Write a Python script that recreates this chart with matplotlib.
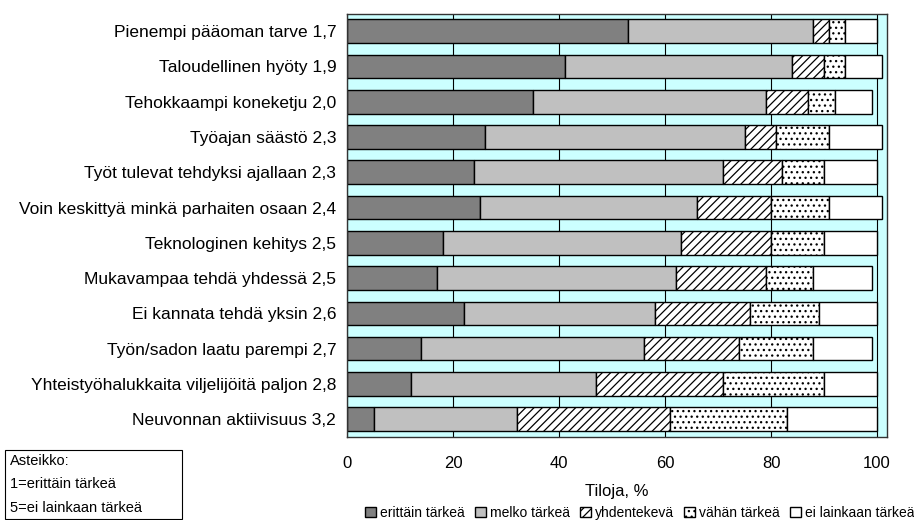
import numpy as np
import matplotlib.pyplot as plt
from matplotlib.patches import Rectangle

plt.rcParams['font.family'] = ['Liberation Sans', 'DejaVu Sans']
plt.rcParams['hatch.linewidth'] = 0.9

# Survey reasons with mean score (1=very important ... 5=not at all important)
reasons = [
    'Pienempi pääoman tarve 1,7',
    'Taloudellinen hyöty 1,9',
    'Tehokkaampi koneketju 2,0',
    'Työajan säästö 2,3',
    'Työt tulevat tehdyksi ajallaan 2,3',
    'Voin keskittyä minkä parhaiten osaan 2,4',
    'Teknologinen kehitys 2,5',
    'Mukavampaa tehdä yhdessä 2,5',
    'Ei kannata tehdä yksin 2,6',
    'Työn/sadon laatu parempi 2,7',
    'Yhteistyöhalukkaita viljelijöitä paljon 2,8',
    'Neuvonnan aktiivisuus 3,2',
]

# share of farms, %
erittain = [53, 41, 35, 26, 24, 25, 18, 17, 22, 14, 12, 5]
melko = [35, 43, 44, 49, 47, 41, 45, 45, 36, 42, 35, 27]
yhdentekeva = [3, 6, 8, 6, 11, 14, 17, 17, 18, 18, 24, 29]
vahan = [3, 4, 5, 10, 8, 11, 10, 9, 13, 14, 19, 22]
ei_lainkaan = [6, 7, 7, 10, 10, 10, 10, 11, 11, 11, 10, 17]

series = [erittain, melko, yhdentekeva, vahan, ei_lainkaan]
names = ['erittäin tärkeä', 'melko tärkeä', 'yhdentekevä', 'vähän tärkeä', 'ei lainkaan tärkeä']
colors = ['#808080', '#c0c0c0', 'white', 'white', 'white']
hatches = [None, None, '////', '...', None]
ticks = [0, 20, 40, 60, 80, 100]

fig = plt.figure(figsize=(9.14, 5.2), dpi=100)
ax = fig.add_axes([0.380, 0.160, 0.590, 0.814])
ax.set_facecolor('#ccffff')

y = np.arange(len(reasons))
left = np.zeros(len(reasons))
for vals, name, col, h in zip(series, names, colors, hatches):
    vals = np.array(vals, dtype=float)
    ax.barh(y, vals, left=left, height=0.67, color=col, edgecolor='black',
            linewidth=1.0, hatch=h, label=name)
    left += vals

ax.set_ylim(len(reasons) - 0.5, -0.5)
ax.set_xlim(0, 101.8)
ax.set_yticks(y)
ax.set_yticklabels(reasons, fontsize=12.5)
ax.set_xticks(ticks)
ax.set_xticklabels([str(t) for t in ticks], fontsize=12)
ax.tick_params(axis='both', length=0)
ax.tick_params(axis='x', pad=14)
ax.tick_params(axis='y', pad=8)
ax.xaxis.grid(True, color='black', linewidth=0.8)
ax.set_axisbelow(True)
for s in ax.spines.values():
    s.set_color('#333333')
    s.set_linewidth(1.0)
ax.set_xlabel('Tiloja, %', fontsize=12, labelpad=9)

fig.legend(loc='center', bbox_to_anchor=(0.700, 1 - 513 / 520), ncol=5,
           frameon=False, fontsize=10, handlelength=0.8, handleheight=0.8,
           handletextpad=0.3, columnspacing=0.7, borderaxespad=0)

# scale explanation box
fig.patches.append(Rectangle((5 / 914, 1 / 520), 177 / 914, 69 / 520,
                             transform=fig.transFigure, fill=False,
                             edgecolor='black', linewidth=0.8))
for i, line in enumerate(['Asteikko:', '1=erittäin tärkeä', '5=ei lainkaan tärkeä']):
    fig.text(10 / 914, 1 - (461 + 23.5 * i) / 520, line, fontsize=10.5, va='center')

fig.savefig('out.png', dpi=100)
